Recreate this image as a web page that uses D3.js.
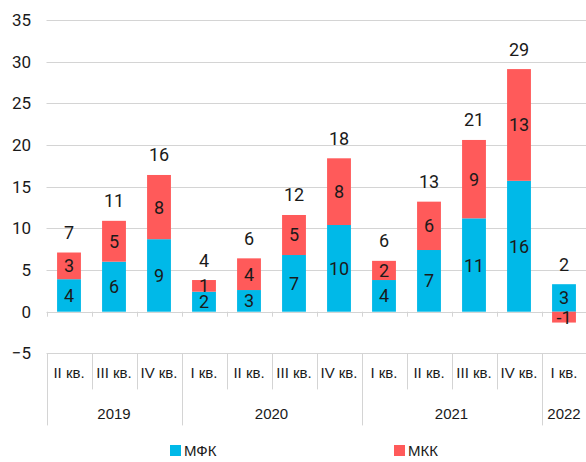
<!DOCTYPE html>
<html>
<head>
<meta charset="utf-8">
<script src="https://cdn.jsdelivr.net/npm/d3@7"></script>
<style>
  body { margin: 0; background: #fff; }
  svg { display: block; }
  text { font-family: Roboto, "Liberation Sans", sans-serif; fill: #1a1a1a; }
</style>
</head>
<body>
<svg id="chart"></svg>
<script>
// кварталы и годы
const quarters = ['II кв.', 'III кв.', 'IV кв.', 'I кв.', 'II кв.', 'III кв.', 'IV кв.', 'I кв.', 'II кв.', 'III кв.', 'IV кв.', 'I кв.'];
const years = ['2019', '2020', '2021', '2022'];
const yearSpans = [3, 4, 4, 1];

// значения рядов
const mfk = [3.9, 6.0, 8.7, 2.4, 2.6, 6.8, 10.4, 3.8, 7.4, 11.2, 15.7, 3.3];
const mkk = [3.2, 4.9, 7.7, 1.4, 3.8, 4.8, 8.0, 2.3, 5.8, 9.4, 13.4, -1.3];
const seriesNames = ['МФК', 'МКК'];
const yTicks = [-5, 0, 5, 10, 15, 20, 25, 30, 35];

const colors = { 'МФК': '#00b9e8', 'МКК': '#ff5a5a' };

const W = 586, H = 462;
const margin = { top: 20, left: 46.5, right: 0, bottom: 108 };

const svg = d3.select('#chart').attr('width', W).attr('height', H);

const rows = quarters.map((q, i) => ({ i, 'МФК': mfk[i], 'МКК': mkk[i] }));

const x = d3.scaleBand()
  .domain(d3.range(quarters.length))
  .range([margin.left, W + 0.5])
  .paddingInner(0.47)
  .paddingOuter(0.235);

const y = d3.scaleLinear()
  .domain([-5, 35])
  .range([353.4, 19.9]);

// сетка
svg.append('g')
  .selectAll('line')
  .data(yTicks)
  .join('line')
  .attr('x1', margin.left)
  .attr('x2', W)
  .attr('y1', d => Math.round(y(d)) + 0.5)
  .attr('y2', d => Math.round(y(d)) + 0.5)
  .attr('stroke', '#d4d4d4')
  .attr('stroke-width', 1);

// ось Y
const yAxis = d3.axisLeft(y).tickValues(yTicks).tickSize(0).tickPadding(0);
svg.append('g')
  .attr('transform', `translate(31, 0)`)
  .call(yAxis)
  .call(g => g.select('.domain').remove())
  .call(g => g.selectAll('text')
    .attr('font-size', 17)
    .style('font-family', 'Roboto, sans-serif')
    .attr('fill', '#1a1a1a'));

// засечки на нуле
const step = x.step();
const bounds = d3.range(quarters.length + 1).map(i => margin.left + i * step);
svg.append('g')
  .selectAll('line')
  .data(bounds)
  .join('line')
  .attr('x1', d => Math.round(d) + 0.5)
  .attr('x2', d => Math.round(d) + 0.5)
  .attr('y1', y(0))
  .attr('y2', y(0) + 5)
  .attr('stroke', '#d4d4d4');

// столбцы
const stack = d3.stack().keys(seriesNames).offset(d3.stackOffsetDiverging);
const stacked = stack(rows);

const layer = svg.append('g')
  .selectAll('g')
  .data(stacked)
  .join('g')
  .attr('fill', d => colors[d.key]);

layer.selectAll('rect')
  .data(d => d)
  .join('rect')
  .attr('x', d => x(d.data.i))
  .attr('width', x.bandwidth())
  .attr('y', d => y(Math.max(d[0], d[1])))
  .attr('height', d => Math.abs(y(d[0]) - y(d[1])));

// подписи сегментов
layer.selectAll('text')
  .data(d => d.map(v => ({ v, key: d.key })))
  .join('text')
  .attr('x', d => x(d.v.data.i) + x.bandwidth() / 2)
  .attr('y', d => (y(d.v[0]) + y(d.v[1])) / 2)
  .attr('dy', '0.36em')
  .attr('text-anchor', 'middle')
  .attr('font-size', 18)
  .text(d => Math.round(d.v.data[d.key]));

// итоговые подписи
svg.append('g')
  .selectAll('text')
  .data(rows)
  .join('text')
  .attr('x', d => x(d.i) + x.bandwidth() / 2)
  .attr('y', d => y(Math.max(d['МФК'], d['МФК'] + d['МКК'])) - 20)
  .attr('dy', '0.36em')
  .attr('text-anchor', 'middle')
  .attr('font-size', 18)
  .text(d => Math.round(d['МФК'] + d['МКК']));

// ось категорий
const axisTop = y(-5);
const catG = svg.append('g');
catG.selectAll('line')
  .data(bounds)
  .join('line')
  .attr('x1', d => Math.round(d) + 0.5)
  .attr('x2', d => Math.round(d) + 0.5)
  .attr('y1', axisTop)
  .attr('y2', axisTop + 36)
  .attr('stroke', '#d4d4d4');

catG.selectAll('text')
  .data(quarters)
  .join('text')
  .attr('x', (d, i) => x(i) + x.bandwidth() / 2)
  .attr('y', axisTop + 25)
  .attr('text-anchor', 'middle')
  .attr('font-size', 15)
  .style('font-family', '"Liberation Sans", sans-serif')
  .text(d => d);

// годы
let acc = 0;
const yearData = years.map((yr, k) => {
  const start = acc;
  acc += yearSpans[k];
  return { yr, start, end: acc };
});
const yearG = svg.append('g');
yearG.selectAll('line')
  .data([0].concat(yearData.map(d => d.end)))
  .join('line')
  .attr('x1', d => Math.round(margin.left + d * step) + 0.5)
  .attr('x2', d => Math.round(margin.left + d * step) + 0.5)
  .attr('y1', axisTop)
  .attr('y2', axisTop + 72)
  .attr('stroke', '#d4d4d4');

yearG.selectAll('text')
  .data(yearData)
  .join('text')
  .attr('x', d => margin.left + (d.start + d.end) / 2 * step)
  .attr('y', axisTop + 66)
  .attr('text-anchor', 'middle')
  .attr('font-size', 15)
  .style('font-family', '"Liberation Sans", sans-serif')
  .text(d => d.yr);

// легенда
const legendX = [170, 394];
const legend = svg.append('g')
  .selectAll('g')
  .data(seriesNames)
  .join('g')
  .attr('transform', (d, i) => `translate(${legendX[i]}, 445)`);
legend.append('rect')
  .attr('width', 11)
  .attr('height', 11)
  .attr('fill', d => colors[d]);
legend.append('text')
  .attr('x', 14)
  .attr('y', 6)
  .attr('dy', '0.36em')
  .attr('font-size', 15)
  .style('font-family', '"Liberation Sans", sans-serif')
  .text(d => d);
</script>
</body>
</html>
